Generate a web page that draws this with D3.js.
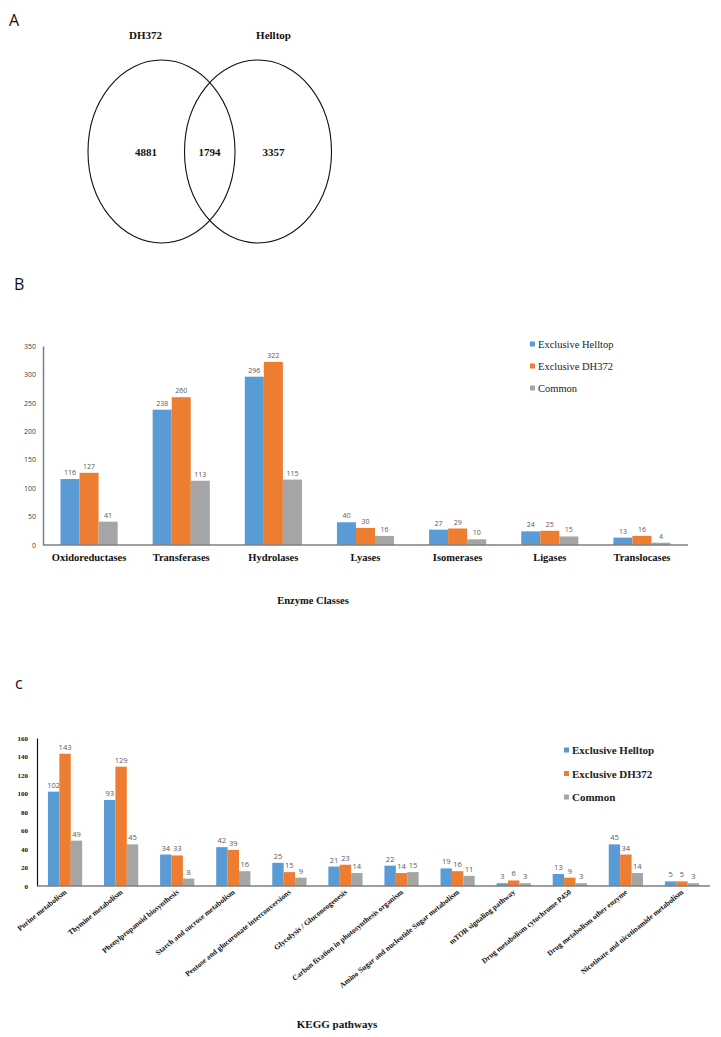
<!DOCTYPE html>
<html><head><meta charset="utf-8">
<script src="https://cdn.jsdelivr.net/npm/d3@7/dist/d3.min.js"></script>
<style>body{margin:0;background:#fff}svg{display:block}</style>
</head><body>
<script>
// ---------- DATA ----------
const vennSets = ["DH372", "Helltop"];
const vennCounts = [4881, 1794, 3357]; // DH372 only, common, Helltop only

const seriesNames = ["Exclusive Helltop", "Exclusive DH372", "Common"];
const seriesColors = ["#5B9BD5", "#ED7D31", "#A5A5A5"];

const enzymeClasses = ["Oxidoreductases","Transferases","Hydrolases","Lyases","Isomerases","Ligases","Translocases"];
const enzHelltop = [116, 238, 296, 40, 27, 24, 13];
const enzDH372   = [127, 260, 322, 30, 29, 25, 16];
const enzCommon  = [41, 113, 115, 16, 10, 15, 4];
const enzTicks = [0,50,100,150,200,250,300,350];

const keggPathways = ["Purine metabolism","Thymine metabolism","Phenylpropanoid biosynthesis","Starch and sucrose metabolism","Pentose and glucuronate interconversions","Glycolysis / Gluconeogenesis","Carbon fixation in photosynthesis organism","Amino Sugar and nucleotide Sugar metabolism","mTOR signaling pathway","Drug metabolism cytochrome P450","Drug metabolism other enzyme","Nicotinate and nicotinamide metabolism"];
const keggHelltop = [102, 93, 34, 42, 25, 21, 22, 19, 3, 13, 45, 5];
const keggDH372   = [143, 129, 33, 39, 15, 23, 14, 16, 6, 9, 34, 5];
const keggCommon  = [49, 45, 8, 16, 9, 14, 15, 11, 3, 3, 14, 3];
const keggTicks = [0,20,40,60,80,100,120,140,160];

// ---------- SVG ----------
const W = 721, H = 1037;
const svg = d3.select("body").append("svg").attr("width", W).attr("height", H);
const serif = "'Liberation Serif','Times New Roman',serif";
const sans = "'Open Sans','DejaVu Sans',sans-serif";

// Panel letters
[["A",9,26],["B",14,290],["c",15,689]].forEach(([t,x,y])=>{
  svg.append("text").attr("x",x).attr("y",y).text(t)
    .attr("font-family",sans).attr("font-size",16).attr("fill","#111");
});

// ---------- Panel A: Venn ----------
const venn = svg.append("g");
const cy = 151.5, rx = 73.5, ry = 91.5;
const ellipseCx = [161.5, 258];
ellipseCx.forEach(cx=>{
  venn.append("ellipse").attr("cx",cx).attr("cy",cy).attr("rx",rx).attr("ry",ry)
    .attr("fill","none").attr("stroke","#111").attr("stroke-width",1.1);
});
const setLabelX = [145.5, 273.5];
vennSets.forEach((s,i)=>{
  venn.append("text").attr("x",setLabelX[i]).attr("y",39).text(s)
    .attr("text-anchor","middle").attr("font-family",serif).attr("font-weight","bold")
    .attr("font-size",11).attr("fill","#111");
});
const countX = [146, 209.5, 273.5];
vennCounts.forEach((c,i)=>{
  venn.append("text").attr("x",countX[i]).attr("y",155.5).text(c)
    .attr("text-anchor","middle").attr("font-family",serif).attr("font-weight","bold")
    .attr("font-size",11).attr("fill","#111");
});

// ---------- Grouped bar helper ----------
function groupedBar(opt){
  const g = svg.append("g");
  const x = d3.scaleBand().domain(opt.cats).range([opt.x0, opt.x1]).paddingInner(opt.pad).paddingOuter(opt.pad/2);
  const xs = d3.scaleBand().domain(d3.range(3)).range([0, x.bandwidth()]);
  const y = d3.scaleLinear().domain([0, opt.ymax]).range([opt.y0, opt.y1]);
  const series = opt.series;
  opt.cats.forEach((c,ci)=>{
    series.forEach((s,si)=>{
      const v = s[ci];
      g.append("rect").attr("x", x(c)+xs(si)).attr("y", y(v))
        .attr("width", xs.bandwidth()).attr("height", y(0)-y(v))
        .attr("fill", seriesColors[si]);
      g.append("text").attr("x", x(c)+xs(si)+xs.bandwidth()/2).attr("y", y(v)-opt.labOff)
        .text(v).attr("text-anchor","middle").attr("font-family",sans)
        .attr("font-size",opt.valSize).attr("fill","#595959");
    });
  });
  // y axis
  const ya = d3.axisLeft(y).tickValues(opt.ticks).tickSize(0).tickPadding(opt.tickPad);
  const yg = g.append("g").attr("transform",`translate(${opt.x0},0)`).call(ya);
  yg.select(".domain").attr("stroke",opt.yAxisColor).attr("stroke-width",opt.yAxisW);
  yg.selectAll("text").attr("font-family",opt.tickFont).attr("font-size",opt.tickSize)
    .attr("font-weight",opt.tickWeight).attr("fill",opt.tickColor);
  // x axis line
  g.append("line").attr("x1",opt.x0).attr("x2",opt.x1).attr("y1",y(0)).attr("y2",y(0))
    .attr("stroke","#7f7f7f").attr("stroke-width",1.5);
  return {g,x,y};
}

// ---------- Panel B ----------
const B = groupedBar({
  cats: enzymeClasses, series:[enzHelltop, enzDH372, enzCommon],
  x0: 43, x1: 688, y0: 545, y1: 346, ymax: 350, pad: 0.38,
  ticks: enzTicks, labOff: 4, valSize: 7,
  yAxisColor:"#7f7f7f", yAxisW:1.5, tickFont:sans, tickSize:7, tickWeight:"normal", tickColor:"#404040", tickPad:7
});
enzymeClasses.forEach(c=>{
  B.g.append("text").attr("x",B.x(c)+B.x.bandwidth()/2).attr("y",561).text(c)
    .attr("text-anchor","middle").attr("font-family",serif).attr("font-weight","bold")
    .attr("font-size",10.5).attr("fill","#111");
});
B.g.append("text").attr("x",313).attr("y",604).text("Enzyme Classes")
  .attr("text-anchor","middle").attr("font-family",serif).attr("font-weight","bold")
  .attr("font-size",10.5).attr("fill","#111");
// legend B
seriesNames.forEach((s,i)=>{
  const ly = 344 + i*22;
  B.g.append("rect").attr("x",530).attr("y",ly-2.5).attr("width",5).attr("height",5).attr("fill",seriesColors[i]);
  B.g.append("text").attr("x",538).attr("y",ly+4).text(s)
    .attr("font-family",serif).attr("font-size",10.5).attr("fill","#222");
});

// ---------- Panel C ----------
const C = groupedBar({
  cats: keggPathways, series:[keggHelltop, keggDH372, keggCommon],
  x0: 37, x1: 710, y0: 886, y1: 738, ymax: 160, pad: 0.39,
  ticks: keggTicks, labOff: 4, valSize: 7.5,
  yAxisColor:"#111", yAxisW:1.2, tickFont:serif, tickSize:7, tickWeight:"bold", tickColor:"#111", tickPad:9
});
keggPathways.forEach(c=>{
  const cx = C.x(c)+C.x.bandwidth()/2 + 2;
  C.g.append("text").attr("transform",`translate(${cx},893) rotate(-39)`).text(c)
    .attr("text-anchor","end").attr("font-family",serif).attr("font-weight","bold")
    .attr("font-size",7.5).attr("fill","#111");
});
C.g.append("text").attr("x",337).attr("y",1028).text("KEGG pathways")
  .attr("text-anchor","middle").attr("font-family",serif).attr("font-weight","bold")
  .attr("font-size",11).attr("fill","#111");
seriesNames.forEach((s,i)=>{
  const ly = 750 + i*23.5;
  C.g.append("rect").attr("x",564).attr("y",ly-2.5).attr("width",5).attr("height",5).attr("fill",seriesColors[i]);
  C.g.append("text").attr("x",572).attr("y",ly+4).text(s)
    .attr("font-family",serif).attr("font-weight","bold").attr("font-size",11).attr("fill","#222");
});
</script>
</body></html>
